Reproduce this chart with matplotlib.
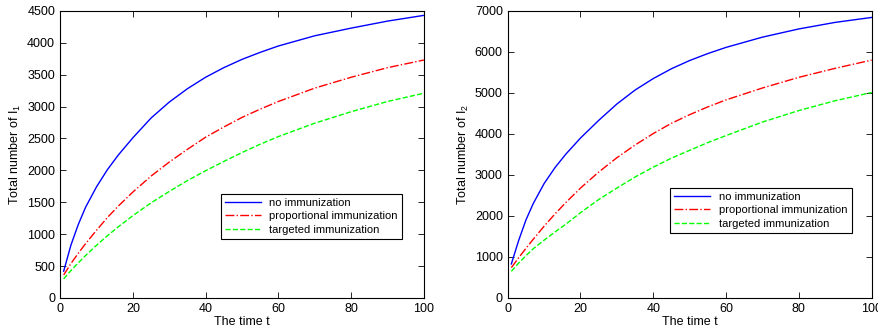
import matplotlib
matplotlib.use("Agg")
import matplotlib.pyplot as plt

plt.rcParams['font.family'] = ['Liberation Sans', 'DejaVu Sans']
plt.rcParams['mathtext.fontset'] = 'custom'
plt.rcParams['mathtext.rm'] = 'Liberation Sans'

# time samples
t = [1, 3, 5, 7, 10, 13, 16, 20, 25, 30, 35, 40, 45, 50, 55, 60, 70, 80, 90, 100]

# left panel: I1
i1_none = [420, 830, 1150, 1420, 1740, 2010, 2240, 2510, 2820, 3070, 3280, 3460, 3610, 3740,
           3850, 3950, 4110, 4230, 4340, 4430]
i1_prop = [360, 540, 700, 850, 1060, 1260, 1440, 1660, 1910, 2130, 2330, 2520, 2680, 2830,
           2960, 3080, 3290, 3460, 3610, 3730]
i1_targ = [300, 430, 550, 665, 825, 975, 1115, 1290, 1490, 1670, 1840, 1995, 2140, 2280,
           2410, 2530, 2740, 2920, 3080, 3210]

# right panel: I2
i2_none = [830, 1400, 1900, 2300, 2790, 3180, 3510, 3900, 4330, 4730, 5070, 5350, 5590, 5790,
           5960, 6110, 6360, 6560, 6720, 6840]
i2_prop = [740, 980, 1210, 1430, 1750, 2050, 2330, 2680, 3070, 3420, 3730, 4010, 4260, 4470,
           4660, 4830, 5120, 5380, 5600, 5800]
i2_targ = [650, 850, 1030, 1200, 1410, 1610, 1800, 2080, 2400, 2680, 2950, 3190, 3410, 3600,
           3790, 3960, 4290, 4570, 4810, 5010]

labels = ['no immunization', 'proportional immunization', 'targeted immunization']

fig = plt.figure(figsize=(8.79, 3.3), dpi=100)
ax1 = fig.add_axes([0.0683, 0.097, 0.414, 0.870])
ax2 = fig.add_axes([0.5776, 0.097, 0.414, 0.870])

panels = [
    (ax1, [i1_none, i1_prop, i1_targ], 4500, 500, 'Total number of I$_1$', (0.956, 0.383)),
    (ax2, [i2_none, i2_prop, i2_targ], 7000, 1000, 'Total number of I$_2$', (0.96, 0.404)),
]

for ax, series, ymax, ystep, ylab, anchor in panels:
    ax.plot(t, series[0], color=(0, 0, 1), lw=1.0, ls='-', label=labels[0])
    ax.plot(t, series[1], color=(1, 0, 0), lw=1.0, ls='-.', label=labels[1])
    ax.plot(t, series[2], color=(0, 1, 0), lw=1.0, ls='--', label=labels[2])
    ax.set_xlim(0, 100)
    ax.set_ylim(0, ymax)
    ax.set_xticks(range(0, 101, 20))
    ax.set_yticks(range(0, ymax + 1, ystep))
    ax.tick_params(direction='in', top=True, right=True, labelsize=9, length=4, width=0.6)
    for s in ax.spines.values():
        s.set_linewidth(0.8)
    ax.set_xlabel('The time t', fontsize=9, labelpad=1)
    ax.set_ylabel(ylab, fontsize=9, labelpad=3)
    leg = ax.legend(loc='upper right', bbox_to_anchor=anchor, fontsize=8,
                    fancybox=False, edgecolor='black', framealpha=1,
                    handlelength=3.2, borderpad=0.4, labelspacing=0.3)
    leg.get_frame().set_linewidth(0.8)

fig.savefig('out.png', dpi=100)
